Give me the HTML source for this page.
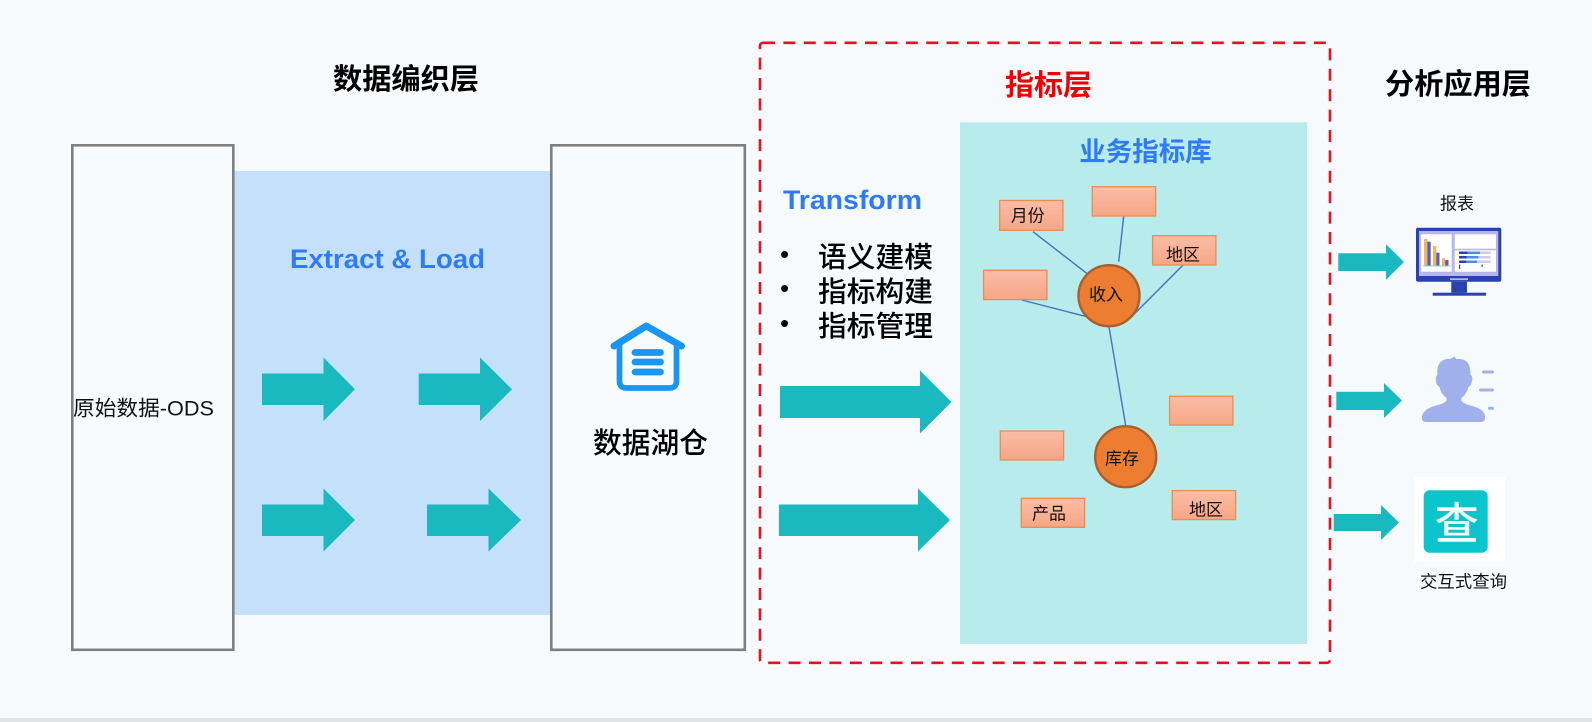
<!DOCTYPE html>
<html lang="zh-CN">
<head>
<meta charset="utf-8">
<title>指标层架构图</title>
<style>
html,body{margin:0;padding:0;background:#f7fafd;width:1592px;height:722px;overflow:hidden}
svg{display:block}
text{font-family:"Liberation Sans","Noto Sans CJK SC",sans-serif;dominant-baseline:central}
.h{font-size:29px;font-weight:700}
.en{font-size:27px;font-weight:700;fill:#2f7bf6}
.b{font-size:28.5px;font-weight:500;fill:#000}
.n{font-size:17px;fill:#111}
.box{fill:url(#g);stroke:#ec8c50;stroke-width:1.3}
.c{fill:#ed7d31;stroke:#a8602c;stroke-width:2.4}
.l{stroke:#4472c4;stroke-width:1.4;fill:none}
.a{fill:#19b9bf}
.w{fill:#fff}
</style>
</head>
<body>
<svg width="1592" height="722" viewBox="0 0 1592 722" xmlns="http://www.w3.org/2000/svg">
<defs>
<linearGradient id="g" x1="0" y1="0" x2="0" y2="1">
<stop offset="0" stop-color="#fbbda6"/>
<stop offset="1" stop-color="#f6a686"/>
</linearGradient>
</defs>
<rect width="1592" height="722" fill="#f7fafd"/>
<rect x="0" y="718" width="1592" height="4" fill="#e2e3e4"/>

<!-- left region -->
<rect x="234" y="171" width="317" height="444" fill="#c4e0fa"/>
<rect x="72.3" y="145.3" width="161" height="504.5" fill="#f8fbfe" stroke="#7f7f7f" stroke-width="2.6"/>
<rect x="551.3" y="145.3" width="193.5" height="504.5" fill="#f8fbfe" stroke="#7f7f7f" stroke-width="2.6"/>

<text class="h" x="333" y="80" textLength="146" lengthAdjust="spacingAndGlyphs">数据编织层</text>
<text class="en" x="290" y="259" textLength="195" lengthAdjust="spacingAndGlyphs">Extract &amp; Load</text>
<text x="73" y="409" font-size="21" fill="#111" textLength="141" lengthAdjust="spacingAndGlyphs">原始数据-ODS</text>

<polygon class="a" points="262,373.5 323.5,373.5 323.5,357.5 355,389.3 323.5,421 323.5,405 262,405"/>
<polygon class="a" points="418.7,373.5 480,373.5 480,357.5 512,389.3 480,421 480,405 418.7,405"/>
<polygon class="a" points="262,504.5 323.5,504.5 323.5,488.5 355,520 323.5,551.5 323.5,536 262,536"/>
<polygon class="a" points="427,504.5 488.5,504.5 488.5,488.5 521,520 488.5,551.5 488.5,536 427,536"/>

<!-- house icon -->
<g fill="none" stroke="#1a96f0" stroke-linecap="round" stroke-linejoin="round">
<path d="M614 346 L646.3 326 L681.5 346" stroke-width="7"/>
<path d="M619.5 344 V381 Q619.5 388 626.5 388 H669.5 Q676.5 388 676.5 381 V344" stroke-width="5.7"/>
<path d="M635 352.5 H660.5 M635 362 H660.5 M635 372 H660.5" stroke-width="6.8"/>
</g>
<text x="593" y="444" font-size="29" font-weight="500" fill="#000" textLength="115" lengthAdjust="spacingAndGlyphs">数据湖仓</text>

<!-- dashed frame -->
<rect x="760" y="42.8" width="570" height="620" rx="3" fill="none" stroke="#e8101e" stroke-width="2.6" stroke-dasharray="12 8.4"/>
<text class="h" x="1005" y="86" style="fill:#f00000" textLength="87" lengthAdjust="spacingAndGlyphs">指标层</text>
<text class="h" x="1385" y="85" textLength="146" lengthAdjust="spacingAndGlyphs">分析应用层</text>

<text class="en" x="783" y="200" textLength="139" lengthAdjust="spacingAndGlyphs">Transform</text>
<text x="780" y="254" font-size="26" fill="#000">•</text>
<text x="780" y="288" font-size="26" fill="#000">•</text>
<text x="780" y="323" font-size="26" fill="#000">•</text>
<text class="b" x="818" y="258" textLength="115" lengthAdjust="spacingAndGlyphs">语义建模</text>
<text class="b" x="818" y="292.5" textLength="115" lengthAdjust="spacingAndGlyphs">指标构建</text>
<text class="b" x="818" y="327" textLength="115" lengthAdjust="spacingAndGlyphs">指标管理</text>

<polygon class="a" points="780,386 920,386 920,370.5 951.5,402 920,433.5 920,418 780,418"/>
<polygon class="a" points="779,504.5 918,504.5 918,488.5 950,520 918,551.5 918,536 779,536"/>

<!-- metric panel -->
<rect x="960" y="122.3" width="347" height="521.7" fill="#b8ebec"/>
<text x="1079.3" y="152" font-size="26.5" font-weight="700" style="fill:#2f7bf6" textLength="132.4" lengthAdjust="spacingAndGlyphs">业务指标库</text>

<path class="l" d="M1033 231.7 L1086.7 273.3 M1123.7 216 L1118.7 261.7 M1183.3 264.7 L1130 318.3 M1021.7 300 L1086.7 316.7 M1109 326.7 L1125.7 425.7"/>

<rect class="box" x="999.7" y="200.5" width="63.3" height="29.8"/>
<rect class="box" x="1092.3" y="186.7" width="63.3" height="29.3"/>
<rect class="box" x="1152.6" y="235.7" width="63.3" height="29.3"/>
<rect class="box" x="983.6" y="270.3" width="63.3" height="29.3"/>
<rect class="box" x="1169.6" y="396.3" width="63.3" height="28.8"/>
<rect class="box" x="1000.3" y="431" width="63.3" height="29"/>
<rect class="box" x="1021.3" y="498.3" width="63.3" height="29"/>
<rect class="box" x="1172.3" y="490.6" width="63.3" height="29"/>

<circle class="c" cx="1109" cy="295.7" r="30.5"/>
<circle class="c" cx="1125.7" cy="456.7" r="30.5"/>

<text class="n" x="1010.7" y="216">月份</text>
<text class="n" x="1166" y="255">地区</text>
<text class="n" x="1089" y="295">收入</text>
<text class="n" x="1105" y="459">库存</text>
<text class="n" x="1032" y="514">产品</text>
<text class="n" x="1189" y="510">地区</text>

<!-- right column arrows -->
<polygon class="a" points="1338.3,253.3 1386,253.3 1386,244.3 1404,262 1386,279.7 1386,271 1338.3,271"/>
<polygon class="a" points="1336.3,391.7 1384,391.7 1384,383 1402,400.5 1384,418 1384,410 1336.3,410"/>
<polygon class="a" points="1333.7,514 1381,514 1381,505 1399,522.5 1381,540 1381,531 1333.7,531"/>

<text class="n" x="1440" y="204">报表</text>

<!-- monitor -->
<rect x="1416" y="227.7" width="85.3" height="54" rx="2" fill="#2a41b0"/>
<rect x="1419" y="231" width="79.3" height="45" fill="#b9b6ee"/>
<rect class="w" x="1421" y="234.3" width="30.7" height="37.4"/>
<rect class="w" x="1454.7" y="234.3" width="41.3" height="14.4"/>
<rect class="w" x="1454.7" y="250.3" width="41.3" height="21.4"/>
<rect x="1424" y="239" width="3.3" height="26.7" fill="#f5b25f"/>
<rect x="1427.3" y="241.7" width="3.4" height="24" fill="#5560b5"/>
<rect x="1433" y="246" width="3.3" height="19.7" fill="#f5b25f"/>
<rect x="1436.3" y="252.7" width="3.2" height="13" fill="#5560b5"/>
<rect x="1442" y="258.3" width="3.2" height="7.4" fill="#f5b25f"/>
<rect x="1445.2" y="260" width="3.3" height="5.7" fill="#5560b5"/>
<rect x="1423" y="265.5" width="27.5" height="1" fill="#8fd0c8"/>
<g>
<rect x="1459" y="251.5" width="31.7" height="2.5" fill="#cfc9f3"/>
<rect x="1459" y="251.5" width="21" height="2.5" fill="#4a8ee0"/>
<rect x="1459" y="251.5" width="8.5" height="2.5" fill="#2a41b0"/>
<rect x="1459" y="256" width="31.7" height="2.5" fill="#cfc9f3"/>
<rect x="1459" y="256" width="19.5" height="2.5" fill="#4a8ee0"/>
<rect x="1459" y="256" width="7.5" height="2.5" fill="#2a41b0"/>
<rect x="1459" y="260.5" width="31.7" height="2.5" fill="#cfc9f3"/>
<rect x="1459" y="260.5" width="18" height="2.5" fill="#4a8ee0"/>
<rect x="1459" y="260.5" width="7" height="2.5" fill="#2a41b0"/>
<rect x="1459" y="264.5" width="1.2" height="4.5" fill="#2a41b0"/>
<rect x="1481.5" y="264.5" width="1.2" height="2.5" fill="#2a41b0"/>
</g>
<rect x="1451.3" y="281.7" width="15.7" height="11" fill="#2a41b0"/>
<rect x="1432.7" y="292.7" width="53.3" height="3" fill="#2a41b0"/>
<rect x="1450" y="278.3" width="18" height="1.8" fill="#b9b6ee"/>

<!-- person -->
<path fill="#9fb0ea" d="M1438 366 Q1442 358 1450 359 L1455 356.5 L1456 359 Q1466 358 1469 365 Q1471 370 1470.5 375 Q1473 376 1472 381 Q1471 386 1468.5 387 Q1466.5 394 1461.5 398 V401 Q1464 404 1472 406 Q1484 409 1485 416 Q1485.5 422 1481 422 H1426 Q1421.5 422 1421.8 417 Q1423 409 1436 405.5 Q1444 404 1446.5 400.5 V398 Q1441 394 1439.5 387 Q1436 385 1435.8 380 Q1435.7 376 1437.5 375 Q1437 370 1438 366 Z"/>
<path d="M1483.5 372 H1492.5 M1480.5 390 H1492.5 M1489.5 408.3 H1492.5" stroke="#9fb0ea" stroke-width="3" stroke-linecap="round" fill="none"/>

<!-- query icon -->
<rect class="w" x="1414" y="477" width="91" height="84.7"/>
<rect x="1423.7" y="490.3" width="64" height="62.4" rx="6" fill="#0cc5cc"/>
<text x="1456.7" y="524.5" font-size="44" font-weight="500" text-anchor="middle" style="fill:#f2fcfc">查</text>
<text class="n" x="1420" y="582" textLength="87" lengthAdjust="spacingAndGlyphs">交互式查询</text>
</svg>
</body>
</html>
